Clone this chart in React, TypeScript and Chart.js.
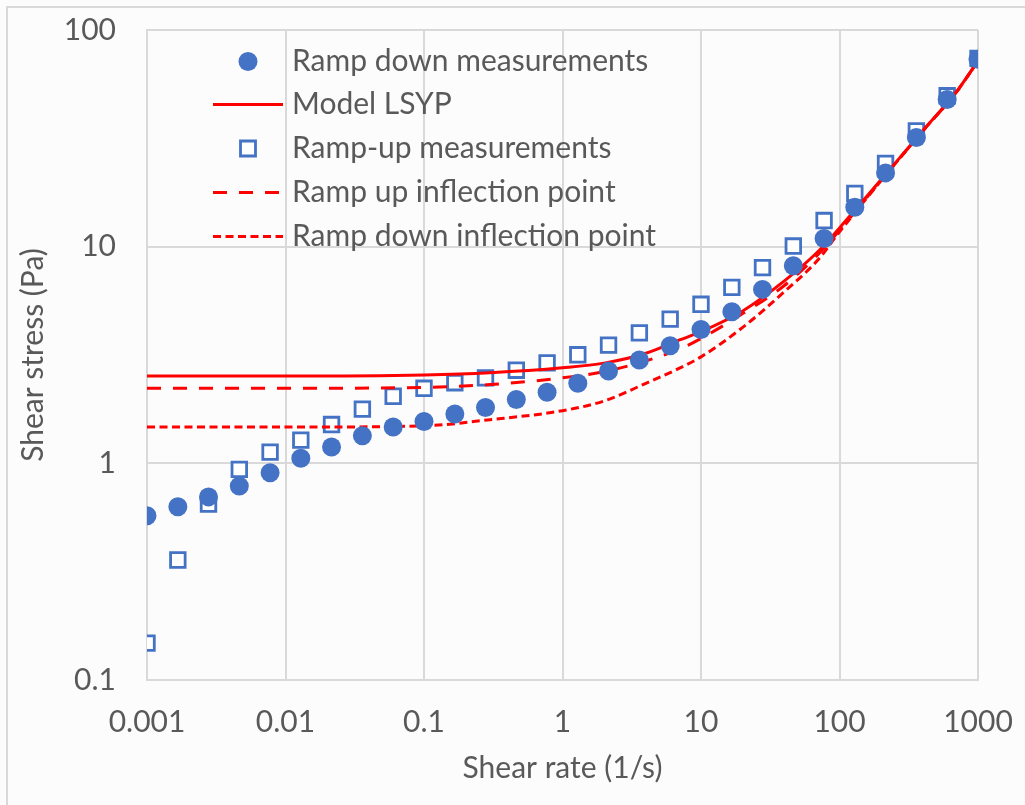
import React, { useEffect, useRef } from 'react';
import { Chart, registerables } from 'chart.js';

Chart.register(...registerables);

// Shear rate (1/s) of the measurement points
const shearRate = [
  0.001, 0.00167, 0.00278, 0.00464, 0.00774, 0.0129, 0.0215, 0.0359, 0.0599, 0.1,
  0.167, 0.278, 0.464, 0.774, 1.29, 2.15, 3.59, 5.99, 10, 16.7,
  27.8, 46.4, 77.4, 129, 215, 359, 599, 1000,
];
// Shear stress (Pa), ramp down (filled circles)
const rampDown = [
  0.573, 0.63, 0.7, 0.785, 0.905, 1.055, 1.19, 1.34, 1.47, 1.56,
  1.69, 1.81, 1.97, 2.13, 2.34, 2.67, 3.0, 3.49, 4.15, 5.01,
  6.35, 8.17, 10.9, 15.2, 21.9, 31.9, 47.8, 73.2,
];
// Shear stress (Pa), ramp up (open squares)
const rampUp = [
  0.148, 0.358, 0.649, 0.938, 1.127, 1.28, 1.51, 1.78, 2.04, 2.22,
  2.355, 2.48, 2.69, 2.91, 3.17, 3.51, 4.0, 4.63, 5.42, 6.49,
  8.0, 10.07, 13.2, 17.6, 24.2, 34.2, 49.7, 74,
];
// Model curves
const modelRate = [0.001, 0.01, 0.1, 0.3, 1, 2, 4, 7, 10, 20, 40, 70, 100, 200, 400, 700, 1000];
const modelLSYP = [2.53, 2.53, 2.56, 2.62, 2.76, 2.9, 3.22, 3.71, 4.05, 5.05, 6.95, 9.5, 12.2, 20.4, 34.3, 51.9, 72];
const rampUpInflection = [2.22, 2.22, 2.24, 2.31, 2.48, 2.65, 2.97, 3.37, 3.77, 4.91, 6.62, 9.2, 11.9, 20.3, 34.2, 51.8, 72];
const rampDownInflection = [1.47, 1.47, 1.49, 1.59, 1.75, 1.94, 2.34, 2.75, 3.1, 4.24, 6.2, 8.7, 11.7, 20.2, 34.2, 51.8, 72];

const xTicks = [0.001, 0.01, 0.1, 1, 10, 100, 1000];
const xTickLabels = ['0.001', '0.01', '0.1', '1', '10', '100', '1000'];
const yTicks = [0.1, 1, 10, 100];
const yTickLabels = ['0.1', '1', '10', '100'];

const legendLabels = [
  'Ramp down measurements',
  'Model LSYP',
  'Ramp-up measurements',
  'Ramp up inflection point',
  'Ramp down inflection point',
];

const BLUE = '#4472C4';
const RED = '#FF0000';
const GRID = '#D9D9D9';
const TEXT = '#595959';
const FONT = 'Lato';
const FS = 30;
const LONG_DASH = [14, 12];
const SHORT_DASH = [8, 4.5];

const pts = (xs: number[], ys: number[]) => xs.map((x, i) => ({ x, y: ys[i] }));

const legendPlugin = {
  id: 'insideLegend',
  afterDraw(chart: any) {
    const ctx = chart.ctx as CanvasRenderingContext2D;
    const x0 = 213, x1 = 283, xm = 248, tx = 292;
    const rows = [61.5, 104.5, 148.5, 192.5, 236.5];
    ctx.save();
    ctx.fillStyle = BLUE;
    ctx.beginPath();
    ctx.arc(xm, rows[0], 9.5, 0, Math.PI * 2);
    ctx.fill();
    ctx.strokeStyle = RED;
    ctx.lineWidth = 3;
    ctx.setLineDash([]);
    ctx.beginPath();
    ctx.moveTo(x0, rows[1]);
    ctx.lineTo(x1, rows[1]);
    ctx.stroke();
    ctx.strokeStyle = BLUE;
    ctx.lineWidth = 2.8;
    ctx.fillStyle = '#ffffff';
    ctx.beginPath();
    ctx.rect(xm - 7.5, rows[2] - 7.5, 15, 15);
    ctx.fill();
    ctx.stroke();
    ctx.strokeStyle = RED;
    ctx.lineWidth = 3;
    ctx.setLineDash(LONG_DASH);
    ctx.beginPath();
    ctx.moveTo(x0, rows[3]);
    ctx.lineTo(x1, rows[3]);
    ctx.stroke();
    ctx.setLineDash(SHORT_DASH);
    ctx.beginPath();
    ctx.moveTo(x0, rows[4]);
    ctx.lineTo(x1, rows[4]);
    ctx.stroke();
    ctx.setLineDash([]);
    ctx.fillStyle = TEXT;
    ctx.font = `${FS}px ${FONT}`;
    ctx.textAlign = 'left';
    ctx.textBaseline = 'middle';
    legendLabels.forEach((t, i) => ctx.fillText(t, tx, rows[i]));
    ctx.restore();
  },
};

export default function App() {
  const ref = useRef<HTMLCanvasElement | null>(null);

  useEffect(() => {
    if (!ref.current) return;
    const chart = new Chart(ref.current, {
      type: 'scatter',
      data: {
        datasets: [
          {
            label: legendLabels[0],
            data: pts(shearRate, rampDown),
            pointStyle: 'circle',
            pointRadius: 9.5,
            pointBackgroundColor: BLUE,
            pointBorderWidth: 0,
            showLine: false,
            order: 0,
          },
          {
            label: legendLabels[1],
            data: pts(modelRate, modelLSYP),
            showLine: true,
            borderColor: RED,
            borderWidth: 3,
            pointRadius: 0,
            cubicInterpolationMode: 'monotone',
            order: 1,
          },
          {
            label: legendLabels[2],
            data: pts(shearRate, rampUp),
            pointStyle: 'rect',
            pointRadius: 10.3,
            pointBackgroundColor: '#ffffff',
            pointBorderColor: BLUE,
            pointBorderWidth: 2.8,
            showLine: false,
            order: 3,
          },
          {
            label: legendLabels[3],
            data: pts(modelRate, rampUpInflection),
            showLine: true,
            borderColor: RED,
            borderWidth: 3,
            borderDash: LONG_DASH,
            pointRadius: 0,
            cubicInterpolationMode: 'monotone',
            order: 2,
          },
          {
            label: legendLabels[4],
            data: pts(modelRate, rampDownInflection),
            showLine: true,
            borderColor: RED,
            borderWidth: 3,
            borderDash: SHORT_DASH,
            pointRadius: 0,
            cubicInterpolationMode: 'monotone',
            order: 2,
          },
        ],
      },
      options: {
        responsive: false,
        animation: false,
        layout: { padding: { top: 30, right: 47, left: 0, bottom: 0 } },
        plugins: {
          legend: { display: false },
          tooltip: { enabled: false },
        },
        scales: {
          x: {
            type: 'logarithmic',
            position: 'bottom',
            min: 0.001,
            max: 1000,
            afterBuildTicks: (s: any) => {
              s.ticks = xTicks.map((v) => ({ value: v }));
            },
            afterFit: (s: any) => {
              s.height = 125;
              s.paddingLeft = 0;
              s.paddingRight = 0;
              s.paddingTop = 0;
              s.paddingBottom = 0;
            },
            ticks: {
              autoSkip: false,
              maxRotation: 0,
              padding: 24,
              color: TEXT,
              font: { family: FONT, size: FS },
              callback: (_v: any, i: number) => xTickLabels[i],
            },
            grid: { color: GRID, lineWidth: 2, drawTicks: false },
            border: { color: GRID, width: 2 },
            title: {
              display: true,
              text: 'Shear rate (1/s)',
              color: TEXT,
              font: { family: FONT, size: FS, lineHeight: 1.2 },
              padding: { top: 0, bottom: 19 },
            },
          },
          y: {
            type: 'logarithmic',
            position: 'left',
            min: 0.1,
            max: 100,
            afterBuildTicks: (s: any) => {
              s.ticks = yTicks.map((v) => ({ value: v }));
            },
            afterFit: (s: any) => {
              s.width = 147;
              s.paddingLeft = 0;
              s.paddingRight = 0;
              s.paddingTop = 0;
              s.paddingBottom = 0;
            },
            ticks: {
              autoSkip: false,
              padding: 31,
              color: TEXT,
              font: { family: FONT, size: FS },
              callback: (_v: any, i: number) => yTickLabels[i],
            },
            grid: { color: GRID, lineWidth: 2, drawTicks: false },
            border: { color: GRID, width: 2 },
            title: {
              display: true,
              text: 'Shear stress (Pa)',
              color: TEXT,
              font: { family: FONT, size: FS, lineHeight: 1.2 },
              padding: { top: 15, bottom: 0 },
            },
          },
        },
      },
      plugins: [legendPlugin],
    } as any);
    return () => chart.destroy();
  }, []);

  return (
    <div
      style={{
        position: 'fixed',
        left: 0,
        top: 0,
        width: 1025,
        height: 805,
        overflow: 'hidden',
        background: '#fcfcfc',
      }}
    >
      <div
        style={{
          position: 'absolute',
          left: 6,
          top: 6,
          width: 1100,
          height: 900,
          border: '2px solid #D9D9D9',
          boxSizing: 'border-box',
        }}
      />
      <canvas
        ref={ref}
        width={1025}
        height={805}
        style={{ position: 'absolute', left: 0, top: 0, width: 1025, height: 805 }}
      />
    </div>
  );
}
